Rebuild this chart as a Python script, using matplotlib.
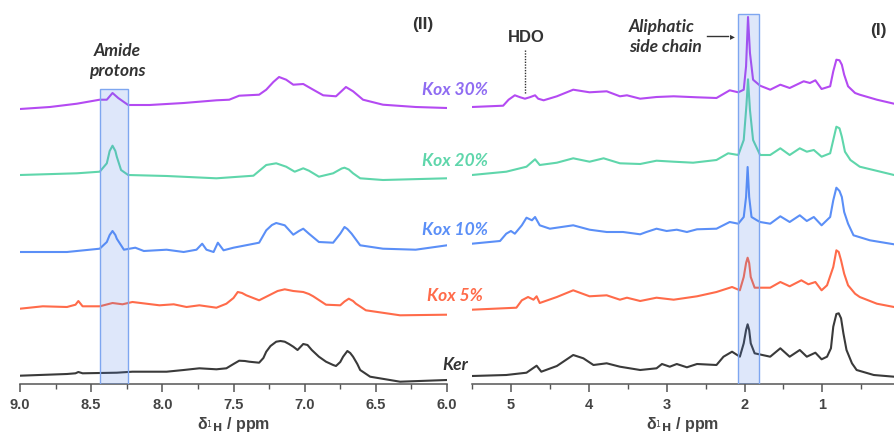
import matplotlib
matplotlib.use("Agg")
import matplotlib.pyplot as plt
from matplotlib.patches import Rectangle
from matplotlib.ticker import MultipleLocator

# ---- data (ppm, intensity) ----
series_names = ["Ker", "Kox 5%", "Kox 10%", "Kox 20%", "Kox 30%"]

# aromatic / amide region (9.0 - 6.0 ppm)
ker_arom_x = [9.00, 8.67, 8.61, 8.59, 8.56, 8.32, 8.21, 7.97, 7.85, 7.74, 7.62, 7.55, 7.50, 7.46, 7.42, 7.39, 7.32,
              7.29, 7.27, 7.24, 7.20, 7.17, 7.14, 7.11, 7.08, 7.05, 7.03, 7.01, 6.98, 6.95, 6.90, 6.85, 6.80,
              6.78, 6.75, 6.73, 6.70, 6.68, 6.66, 6.63, 6.61, 6.54, 6.33, 6.00]
ker_arom_y = [-0.7, 1, 1.7, 3, 1.7, 2.3, 3.3, 3.3, 5, 6.7, 5.7, 6.7, 11, 14.3, 14, 13.3, 12.3,
              17, 23.3, 29, 33.3, 34, 33.3, 31, 28.3, 25, 28, 31, 30, 25, 18.3, 13.3, 10,
              9, 13, 18.3, 24, 22, 18.3, 11, 5, -1.7, -6.7, -5]

k5_arom_x = [9.00, 8.84, 8.67, 8.61, 8.59, 8.56, 8.44, 8.35, 8.28, 8.21, 8.02, 7.92, 7.83, 7.74, 7.62, 7.55,
             7.50, 7.47, 7.44, 7.41, 7.32, 7.25, 7.19, 7.14, 7.08, 7.01, 6.97, 6.94, 6.85, 6.75, 6.72, 6.69,
             6.66, 6.64, 6.57, 6.33, 6.00]
k5_arom_y = [-0.7, 1.7, 1, 3.3, 7, 1.7, 1.7, 5, 3.7, 6, 2.7, 3.7, 1, 2.7, 0.3, 4.3,
             10, 16, 15, 12.7, 7.7, 12.7, 17, 18.7, 17, 16, 14, 11.7, 3.3, 2.7, 6.5, 9.3,
             7, 4.3, -2.3, -7.3, -6.7]

k10_arom_x = [9.00, 8.67, 8.44, 8.39, 8.37, 8.35, 8.33, 8.32, 8.27, 8.19, 8.13, 7.97, 7.85, 7.76, 7.72, 7.69,
              7.64, 7.61, 7.57, 7.50, 7.32, 7.27, 7.23, 7.20, 7.14, 7.08, 7.04, 7.01, 6.97, 6.90, 6.80, 6.75,
              6.72, 6.70, 6.67, 6.61, 6.45, 6.22, 6.00]
k10_arom_y = [0, 0, 3.3, 10, 17, 21, 17, 13.3, 2.3, 4.3, 1, 2.3, 0, 2.3, 8.3, 2.3,
              0, 9.3, 1.7, 4.3, 9.3, 21.7, 27, 29, 26.7, 17.3, 21, 23.3, 18.3, 10, 9.3, 18.3,
              25, 23, 18.3, 6.7, 3.3, 2.3, 6.7]

k20_arom_x = [9.00, 8.60, 8.44, 8.39, 8.37, 8.35, 8.33, 8.32, 8.29, 8.24, 7.97, 7.62, 7.36, 7.27, 7.20, 7.13,
              7.07, 7.01, 6.97, 6.90, 6.80, 6.74, 6.72, 6.69, 6.66, 6.61, 6.45, 6.00]
k20_arom_y = [0, 1.7, 3.3, 11.7, 24, 29.3, 24, 18.3, 5, 0, -1, -3.3, -0.7, 10, 11.7, 8.3,
              3.3, 6.7, 4.3, -1.7, 1.7, 6.5, 7.3, 5.5, 1.7, -3.3, -5, -3.3]

k30_arom_x = [9.00, 8.79, 8.60, 8.44, 8.39, 8.35, 8.31, 8.24, 8.09, 7.85, 7.62, 7.53, 7.46, 7.32, 7.27, 7.22,
              7.18, 7.13, 7.08, 7.01, 6.94, 6.87, 6.78, 6.74, 6.71, 6.66, 6.59, 6.45, 6.22, 6.00]
k30_arom_y = [-1, 1, 4.3, 8.3, 8.3, 15, 10, 3, 3, 5, 7.7, 8.3, 12.3, 13.3, 18.3, 26,
              31, 28.3, 23.3, 24, 18.3, 12.7, 11.7, 17, 21, 16.7, 8.3, 3.3, 1, 0]

# aliphatic region (5.5 - 0 ppm)
ker_ali_x = [5.50, 5.06, 4.80, 4.67, 4.61, 4.41, 4.20, 4.07, 3.94, 3.77, 3.60, 3.34, 3.13, 3.06, 2.96, 2.87,
             2.74, 2.61, 2.36, 2.27, 2.16, 2.06, 2.01, 1.98, 1.96, 1.94, 1.92, 1.87, 1.67, 1.54, 1.42, 1.29,
             1.20, 1.09, 1.01, 0.94, 0.89, 0.86, 0.82, 0.79, 0.76, 0.73, 0.69, 0.62, 0.56, 0.34, 0.08]
ker_ali_y = [-1, 0, 2.3, 9.3, 3.3, 9, 20, 16.7, 10, 11.7, 8.3, 5, 6.7, 11, 8.3, 11,
             7.7, 11, 10, 18.3, 23.3, 18.3, 31.7, 45, 50.7, 45, 31.7, 21.7, 18.3, 26.7, 18.3, 25,
             18.3, 22.3, 15.7, 18.3, 26.7, 48.3, 61, 61.7, 56.7, 41.7, 25, 11.7, 5, 0, -1.7]

k5_ali_x = [5.50, 4.93, 4.86, 4.78, 4.71, 4.67, 4.63, 4.41, 4.20, 3.99, 3.77, 3.60, 3.51, 3.34, 3.13, 2.91,
            2.61, 2.36, 2.16, 2.06, 2.01, 1.98, 1.96, 1.94, 1.92, 1.87, 1.67, 1.54, 1.42, 1.27, 1.18, 1.09,
            1.01, 0.94, 0.86, 0.82, 0.79, 0.76, 0.72, 0.67, 0.58, 0.52, 0.30, 0.08]
k5_ali_y = [-1.7, 0.3, 7.7, 11, 8.3, 11.7, 5, 11, 17.7, 11.7, 12.7, 8.3, 10.3, 7, 10.3, 8.3,
            11.7, 16, 21, 17.7, 31, 45, 50.3, 45, 31, 20.3, 20.3, 26, 21.7, 27.7, 23.7, 26,
            17.7, 22.7, 41, 57.7, 56, 47.7, 34.3, 22.7, 14.3, 11, 4.3, 1]

k10_ali_x = [5.50, 5.14, 5.06, 5.00, 4.95, 4.86, 4.80, 4.73, 4.69, 4.63, 4.50, 4.20, 3.99, 3.77, 3.56, 3.34,
             3.26, 3.13, 3.00, 2.87, 2.74, 2.61, 2.36, 2.19, 2.08, 2.01, 1.98, 1.96, 1.94, 1.91, 1.84, 1.80,
             1.67, 1.54, 1.42, 1.29, 1.20, 1.11, 1.01, 0.90, 0.86, 0.82, 0.78, 0.75, 0.72, 0.67, 0.60, 0.39,
             0.08]
k10_ali_y = [8.3, 11, 18.3, 21, 18.3, 26.7, 34.3, 31.7, 35, 26.7, 23.3, 26.7, 22.3, 20, 20, 17.7,
             20, 23.3, 21, 22.3, 20, 22.7, 23.3, 30, 28.3, 35, 55, 85, 55, 35, 31.7, 30,
             28.3, 35.7, 30, 36.7, 31, 35, 26.7, 35, 51.7, 64.3, 61, 55, 40, 28.3, 16.7, 11.7,
             7.7]

k20_ali_x = [5.50, 5.06, 4.80, 4.69, 4.63, 4.41, 4.20, 3.99, 3.81, 3.60, 3.34, 3.13, 2.91, 2.66, 2.36, 2.21,
             2.08, 2.01, 1.975, 1.955, 1.93, 1.89, 1.80, 1.67, 1.54, 1.42, 1.29, 1.20, 1.11, 1.01, 0.90, 0.86,
             0.82, 0.78, 0.75, 0.71, 0.64, 0.52, 0.08]
k20_ali_y = [0, 3.3, 8.3, 15.7, 10, 12.3, 16.7, 13.3, 16.7, 11.7, 11, 14.3, 13.3, 12.3, 15, 21.7,
             20, 35, 70, 95.7, 65, 35, 20, 20, 26.7, 20, 26.7, 23.3, 25, 18.3, 21.7, 35,
             48.3, 46.7, 38.3, 23.3, 15, 8.3, 0]

k30_ali_x = [5.50, 5.10, 5.03, 4.95, 4.88, 4.82, 4.76, 4.69, 4.65, 4.58, 4.41, 4.20, 3.99, 3.77, 3.60, 3.51,
             3.34, 3.13, 2.91, 2.61, 2.36, 2.19, 2.08, 2.01, 1.98, 1.955, 1.93, 1.89, 1.80, 1.67, 1.54, 1.42,
             1.24, 1.16, 1.09, 1.01, 0.90, 0.86, 0.82, 0.78, 0.75, 0.72, 0.67, 0.58, 0.52, 0.30, 0.08]
k30_ali_y = [1, 2.3, 8.3, 12.7, 10.7, 9.3, 10.7, 12.7, 9.3, 7.7, 11.7, 18.3, 15.7, 16.7, 11.7, 12.7,
             9.3, 11, 11.7, 10.7, 10, 17.7, 15.7, 18.3, 41.7, 91, 55, 28.3, 22.3, 18.3, 23.3, 20,
             26.7, 25, 27.7, 19, 21.7, 36.7, 48.3, 47.7, 43.3, 33.3, 21.7, 15, 13.3, 8.3, 4.3]

arom_x = [ker_arom_x, k5_arom_x, k10_arom_x, k20_arom_x, k30_arom_x]
arom_y = [ker_arom_y, k5_arom_y, k10_arom_y, k20_arom_y, k30_arom_y]
ali_x = [ker_ali_x, k5_ali_x, k10_ali_x, k20_ali_x, k30_ali_x]
ali_y = [ker_ali_y, k5_ali_y, k10_ali_y, k20_ali_y, k30_ali_y]

# ---- style ----
line_colors = ["#3a3a3a", "#ff6b4a", "#5b8ff7", "#5fd6ab", "#b44af2"]
label_colors = ["#333333", "#ff6b4a", "#5b8ff7", "#5fd6ab", "#8f6cf2"]
offsets = [9, 76, 132, 209, 276]          # vertical stacking of the spectra
label_y = [365, 296, 230, 161, 90]        # label positions in pixels from top

W, H = 894, 432
fig = plt.figure(figsize=(W / 100, H / 100), dpi=100)

axis_px = 384
ax_l = fig.add_axes([20 / W, (H - axis_px) / H, 427 / W, axis_px / H])
ax_r = fig.add_axes([472 / W, (H - axis_px) / H, (W - 472) / W, axis_px / H])

for i in range(len(series_names)):
    ax_l.plot(arom_x[i], [v + offsets[i] for v in arom_y[i]], color=line_colors[i], lw=1.5,
              solid_joinstyle="round", zorder=2)
    ax_r.plot(ali_x[i], [v + offsets[i] for v in ali_y[i]], color=line_colors[i], lw=1.5,
              solid_joinstyle="round", zorder=2)

tick_font = {"family": "Liberation Sans", "weight": "bold", "size": 10.5}
for ax in (ax_l, ax_r):
    ax.set_ylim(0, axis_px)
    for s in ("left", "right", "top"):
        ax.spines[s].set_visible(False)
    ax.spines["bottom"].set_color("#555555")
    ax.spines["bottom"].set_linewidth(1.1)
    ax.set_yticks([])
    ax.tick_params(axis="x", which="major", direction="out", length=6, width=1.1, color="#555555",
                   labelcolor="#444444", pad=4)
    ax.tick_params(axis="x", which="minor", direction="out", length=3.5, width=1.0, color="#555555")
    ax.patch.set_alpha(0)
    ax.set_xlabel("\u03b4$_{^{1}\\mathbf{H}}$ / ppm", fontsize=11.5, fontweight="bold", color="#444444",
                  family="Liberation Sans", labelpad=2)

ax_l.set_xlim(9.0, 6.0)
ax_l.xaxis.set_minor_locator(MultipleLocator(0.25))
ax_l.set_xticks([9.0, 8.5, 8.0, 7.5, 7.0, 6.5, 6.0])
ax_l.set_xticklabels(["9.0", "8.5", "8.0", "7.5", "7.0", "6.5", "6.0"], fontdict=tick_font)

ax_r.set_xlim(5.5, 0.08)
ax_r.xaxis.set_minor_locator(MultipleLocator(0.5))
ax_r.set_xticks([5, 4, 3, 2, 1])
ax_r.set_xticklabels(["5", "4", "3", "2", "1"], fontdict=tick_font)

# highlighted regions
for ax, (x0, x1), top in ((ax_l, (8.44, 8.24), 89), (ax_r, (2.09, 1.81), 14)):
    ax.add_patch(Rectangle((x0, 0), x1 - x0, axis_px - top, facecolor="#4a7fe8", alpha=0.18,
                           edgecolor="none", zorder=3))
    ax.add_patch(Rectangle((x0, 0), x1 - x0, axis_px - top, facecolor="none",
                           edgecolor="#7ea6f0", lw=1.0, zorder=3))


def fx(px):
    return px / W


def fy(py):
    return 1 - py / H


lab_font = ["Lato", "DejaVu Sans"]
for i, name in enumerate(series_names):
    fig.text(fx(455), fy(label_y[i]), name, color=label_colors[i], fontsize=12.5, fontweight="bold",
             fontstyle="italic", family=lab_font, ha="center", va="center")

fig.text(fx(423), fy(25), "(II)", fontsize=12.5, fontweight="bold", color="#333333",
         family="Liberation Sans", ha="center", va="center")
fig.text(fx(878), fy(31), "(I)", fontsize=12.5, fontweight="bold", color="#333333",
         family="Liberation Sans", ha="center", va="center")
fig.text(fx(117), fy(61), "Amide\nprotons", fontsize=12.5, fontweight="bold", fontstyle="italic",
         color="#333333", family=lab_font, ha="center", va="center", linespacing=1.3)
fig.text(fx(526), fy(37), "HDO", fontsize=12, fontweight="bold", color="#333333",
         family="Liberation Sans", ha="center", va="center")
fig.add_artist(plt.Line2D([fx(525), fx(525)], [fy(50), fy(94)], color="#333333", lw=1.0, ls=(0, (1, 1))))
fig.text(fx(629), fy(37), "Aliphatic\nside chain", fontsize=12.5, fontweight="bold", fontstyle="italic",
         color="#333333", family=lab_font, ha="left", va="center", linespacing=1.3)
fig.add_artist(plt.Line2D([fx(707), fx(728)], [fy(36), fy(36)], color="#333333", lw=1.0))
fig.text(fx(735), fy(36), "\u25b8", fontsize=7, color="#333333", ha="right", va="center")

fig.savefig("out.png", dpi=100)
